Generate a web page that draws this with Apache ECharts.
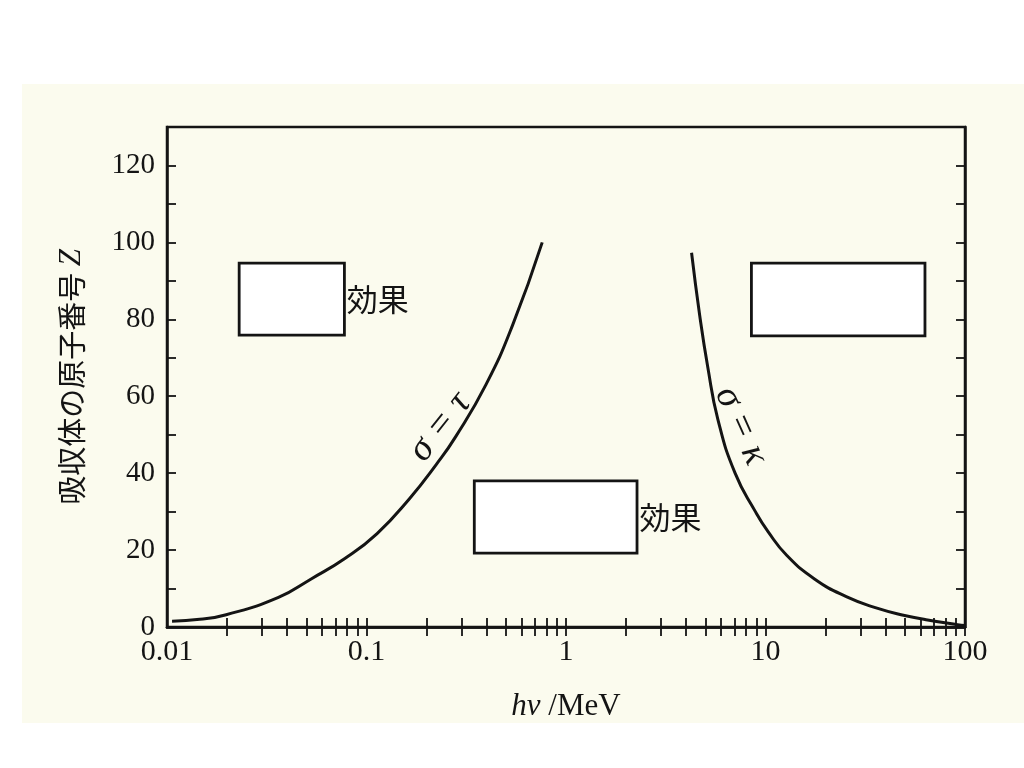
<!DOCTYPE html>
<html>
<head>
<meta charset="utf-8">
<script src="https://cdn.jsdelivr.net/npm/echarts@6/dist/echarts.min.js"></script>
<style>
  html, body { margin: 0; padding: 0; background: #fff; }
  #main { width: 1024px; height: 768px; }
</style>
</head>
<body>
<div id="main"></div>
<script>
// photoelectric / Compton boundary (sigma = tau)
const photoX = [0.0106, 0.0146, 0.0198, 0.0362, 0.0528, 0.0779, 0.113, 0.165, 0.224, 0.28, 0.397, 0.54, 0.76];
const photoZ = [1.5, 2, 3.2, 7.7, 12.5, 17.8, 24.3, 33.5, 42.3, 49.5, 63, 78.5, 100];
// Compton / pair production boundary (sigma = kappa)
const pairX = [4.26, 4.68, 5.14, 5.77, 7.04, 8.9, 10.3, 12.8, 17.6, 25.4, 36.2, 49.8, 63.8, 91.7, 100];
const pairZ = [97.3, 81, 67.5, 54, 40, 30, 24.8, 18.6, 12.5, 7.9, 4.9, 3.0, 1.9, 0.6, 0.4];

// the three masked boxes: [x1, x2, z1, z2]
const boxes = [
  [0.023, 0.0775, 94.6, 75.9],
  [0.347, 2.27, 38.0, 19.2],
  [8.5, 63, 94.6, 75.7]
];
const boxLabels = ['効果', '効果', ''];

const xDecades = [0.01, 0.1, 1, 10];
const xMinorMult = [2, 3, 4, 5, 6, 7, 8, 9, 10];
const yLabels = [0, 20, 40, 60, 80, 100, 120];

const xTicks = [];
xDecades.forEach(d => xMinorMult.forEach(m => xTicks.push(+(d * m).toPrecision(3))));

const ink = '#141414';
const serif = '"Liberation Serif", "DejaVu Serif", serif';
const cjk = '"Noto Sans CJK JP", sans-serif';

function pairs(xs, ys) {
  return xs.map((x, i) => [x, ys[i]]);
}

const xBase = {
  type: 'log', logBase: 10, min: 0.01, max: 100,
  axisLine: { show: true, lineStyle: { color: ink, width: 2.5 } },
  axisTick: { show: true, inside: true, length: 9, customValues: xTicks, lineStyle: { color: ink, width: 1.8 } },
  splitLine: { show: false }
};
const yBase = {
  type: 'value', min: 0, max: 130, interval: 10,
  axisLine: { show: true, lineStyle: { color: ink, width: 2.5 } },
  axisTick: { show: true, inside: true, length: 9, lineStyle: { color: ink, width: 1.8 } },
  splitLine: { show: false }
};

function curveLabel(text, x, y, rot) {
  return {
    type: 'text', x: x, y: y, rotation: rot, z: 10,
    style: {
      text: text, fill: ink, font: 'italic 38px "Liberation Serif"',
      align: 'center', verticalAlign: 'middle'
    }
  };
}

const chart = echarts.init(document.getElementById('main'));
chart.setOption({
  backgroundColor: 'transparent',
  animation: false,
  graphic: [
    { type: 'rect', z: -100, silent: true, shape: { x: 22, y: 84, width: 1002, height: 639 }, style: { fill: '#fbfbee' } },
    curveLabel('σ = τ', 440, 427, 0.9),
    curveLabel('σ = κ', 741, 426, -1.15)
  ],
  grid: {
    left: 167, right: 59, top: 127, bottom: 141,
    show: true, borderColor: ink, borderWidth: 2.5, backgroundColor: 'transparent'
  },
  xAxis: [
    Object.assign({}, xBase, {
      position: 'bottom',
      name: '{i|hν} /MeV',
      nameLocation: 'middle',
      nameGap: 64,
      nameTextStyle: {
        color: ink, fontFamily: serif, fontSize: 31,
        rich: { i: { fontStyle: 'italic', fontFamily: serif, fontSize: 31, color: ink } }
      },
      axisLabel: {
        color: ink, fontFamily: serif, fontSize: 30, margin: 10,
        formatter: v => String(v)
      }
    }),
    Object.assign({}, xBase, { position: 'top', axisLabel: { show: false } })
  ],
  yAxis: [
    Object.assign({}, yBase, {
      position: 'left',
      name: '吸収体の原子番号 {i|Z}',
      nameLocation: 'middle',
      nameGap: 80,
      nameTextStyle: {
        color: ink, fontFamily: cjk, fontSize: 29,
        rich: { i: { fontStyle: 'italic', fontFamily: serif, fontSize: 31, color: ink } }
      },
      axisLabel: {
        color: ink, fontFamily: serif, fontSize: 29, margin: 12,
        formatter: v => (yLabels.indexOf(v) >= 0 ? String(v) : '')
      }
    }),
    Object.assign({}, yBase, { position: 'right', axisLabel: { show: false } })
  ],
  series: [
    {
      type: 'line', xAxisIndex: 0, yAxisIndex: 0,
      data: pairs(photoX, photoZ),
      smooth: 0.5, showSymbol: false, symbol: 'none',
      lineStyle: { color: ink, width: 3 },
      markArea: {
        silent: true,
        itemStyle: { color: '#ffffff', borderColor: ink, borderWidth: 2.8 },
        label: { show: true, position: 'right', distance: 1, color: ink, fontFamily: cjk, fontSize: 31 },
        data: boxes.map((b, i) => [
          { coord: [b[0], b[2]], name: boxLabels[i] },
          { coord: [b[1], b[3]] }
        ])
      }
    },
    {
      type: 'line', xAxisIndex: 0, yAxisIndex: 0,
      data: pairs(pairX, pairZ),
      smooth: 0.5, showSymbol: false, symbol: 'none',
      lineStyle: { color: ink, width: 3 }
    }
  ]
});
</script>
</body>
</html>
